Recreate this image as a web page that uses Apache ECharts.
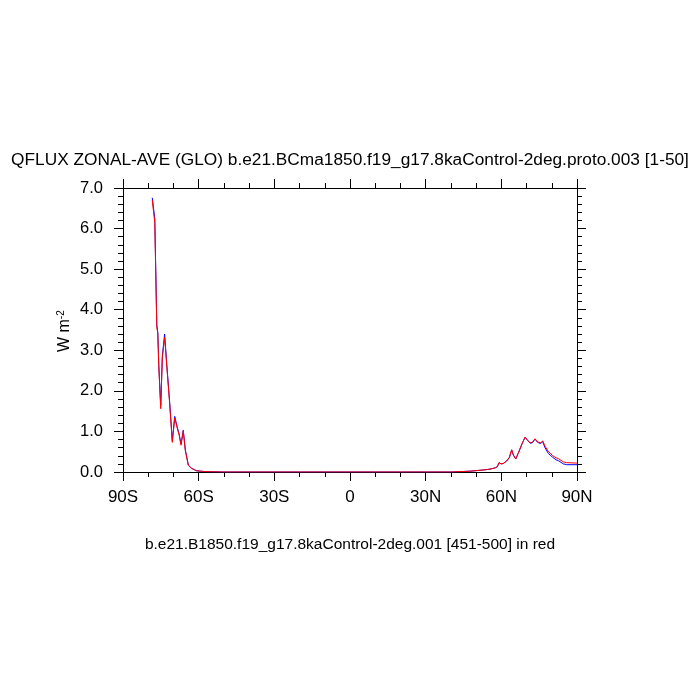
<!DOCTYPE html>
<html>
<head>
<meta charset="utf-8">
<script src="https://cdn.jsdelivr.net/npm/echarts@6/dist/echarts.min.js"></script>
<style>html,body{margin:0;padding:0;background:#fff}#c{width:700px;height:700px}</style>
</head>
<body>
<div id="c"></div>
<script>
// Latitudes (degrees, negative = south) and zonal-average QFLUX (W m-2)
var lats = [-78.4, -77.4, -76.6, -76.2, -75.8, -75.05, -74.4, -73.5, -72.6, -71.5, -70.45, -69.5, -68.6, -67.7, -67.0, -66.1, -65.3, -64.1, -62.8, -60.8, -57.5, -50, -40, -30, -20, -10, 0, 10, 20, 30, 40, 47.6, 52.9, 55.5, 57.5, 58.4, 59.1, 59.9, 60.8, 62.1, 63.2, 64.1, 64.75, 65.7, 66.7, 67.4, 68.3, 69.4, 70.3, 71.4, 72.3, 73.35, 74.4, 75.6, 76.4, 77.3, 78.6, 80.4, 81.7, 82.6, 83.3, 84.6, 85.9, 90];
var blueVals = [6.76, 6.25, 3.62, 3.44, 2.62, 1.64, 2.86, 3.40, 2.62, 1.72, 0.77, 1.37, 1.13, 0.92, 0.69, 1.03, 0.55, 0.17, 0.09, 0.03, 0.01, 0.0, 0.0, 0.0, 0.0, 0.0, 0.0, 0.0, 0.0, 0.0, 0.0, 0.02, 0.05, 0.07, 0.10, 0.13, 0.23, 0.20, 0.21, 0.27, 0.36, 0.54, 0.42, 0.32, 0.46, 0.50, 0.71, 0.85, 0.79, 0.71, 0.72, 0.81, 0.73, 0.70, 0.75, 0.60, 0.46, 0.36, 0.30, 0.28, 0.25, 0.20, 0.18, 0.18];
var redVals = [6.70, 6.15, 3.58, 3.40, 2.58, 1.56, 2.82, 3.32, 2.58, 1.68, 0.73, 1.33, 1.11, 0.90, 0.66, 1.01, 0.53, 0.17, 0.09, 0.03, 0.01, 0.0, 0.0, 0.0, 0.0, 0.0, 0.0, 0.0, 0.0, 0.0, 0.0, 0.02, 0.05, 0.07, 0.10, 0.13, 0.23, 0.20, 0.21, 0.27, 0.36, 0.55, 0.42, 0.32, 0.46, 0.50, 0.71, 0.86, 0.79, 0.72, 0.73, 0.82, 0.74, 0.72, 0.77, 0.64, 0.51, 0.40, 0.35, 0.33, 0.30, 0.25, 0.23, 0.22];
var titleText = 'QFLUX ZONAL-AVE (GLO) b.e21.BCma1850.f19_g17.8kaControl-2deg.proto.003 [1-50]';
var bottomText = 'b.e21.B1850.f19_g17.8kaControl-2deg.001 [451-500] in red';

function pairs(xs, ys){ return xs.map(function(x,i){ return [x, ys[i]]; }); }
function latFmt(v){ if (v < 0) return (-v) + 'S'; if (v > 0) return v + 'N'; return '0'; }

var FONT = '"Liberation Sans", Arial, Helvetica, sans-serif';
function common(split){
  return {
    axisLine: {show: true, onZero: false, lineStyle: {color: '#000', width: 1}},
    axisTick: {show: true, inside: false, length: 9, lineStyle: {color: '#000', width: 1}},
    minorTick: {show: true, splitNumber: split, length: 5, lineStyle: {color: '#000', width: 1}},
    splitLine: {show: false},
    minorSplitLine: {show: false}
  };
}
function xAx(pos, showLabel){
  return Object.assign({
    type: 'value', position: pos, min: -90, max: 90, interval: 30,
    axisLabel: {show: showLabel, formatter: latFmt, fontSize: 17, color: '#000', fontFamily: FONT, margin: 17}
  }, common(3));
}
function yAx(pos, showLabel){
  return Object.assign({
    type: 'value', position: pos, min: 0, max: 7, interval: 1,
    axisLabel: {show: showLabel, formatter: function(v){ return v.toFixed(1); }, fontSize: 16.5, color: '#000', fontFamily: FONT, margin: 20}
  }, common(5));
}

var chart = echarts.init(document.getElementById('c'), null, {renderer: 'canvas'});
chart.setOption({
  animation: false,
  backgroundColor: '#fff',
  title: {
    text: titleText, left: 'center', top: 147,
    textStyle: {fontSize: 17.3, fontWeight: 'normal', color: '#000', fontFamily: FONT}
  },
  grid: {left: 123, top: 188, width: 454, height: 284, containLabel: false},
  xAxis: [xAx('bottom', true), xAx('top', false)],
  yAxis: [yAx('left', true), yAx('right', false)],
  graphic: [
    {type: 'text', left: 'center', top: 537,
     style: {text: bottomText, fontSize: 15.5, fill: '#000', fontFamily: FONT}},
    {type: 'text', x: 56, y: 352, rotation: Math.PI/2,
     style: {text: '{a|W m}{b|-2}', fill: '#000', fontFamily: FONT,
       rich: {a: {fontSize: 16, fontFamily: FONT, fill: '#000'}, b: {fontSize: 10, fontFamily: FONT, fill: '#000', verticalAlign: 'top', padding: [0,0,8,0]}}}}
  ],
  series: [
    {type: 'line', name: 'proto.003', xAxisIndex: 0, yAxisIndex: 0, data: pairs(lats, blueVals),
     showSymbol: false, symbol: 'none', lineStyle: {color: '#0000ff', width: 1}, z: 2},
    {type: 'line', name: '001', xAxisIndex: 0, yAxisIndex: 0, data: pairs(lats, redVals),
     showSymbol: false, symbol: 'none', lineStyle: {color: '#ff0000', width: 1}, z: 3}
  ]
});
</script>
</body>
</html>
